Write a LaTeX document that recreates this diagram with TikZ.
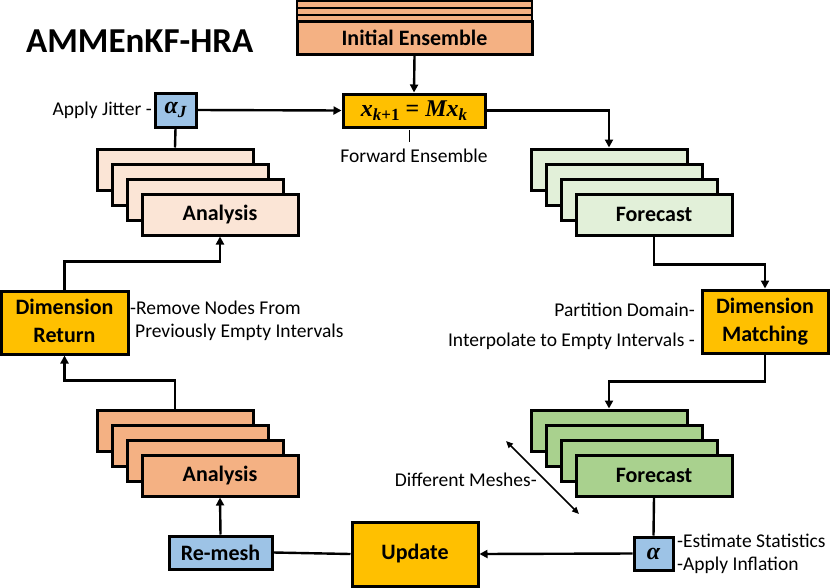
\documentclass[tikz,border=0pt]{standalone}
\usepackage{fontspec}
\setmainfont{Carlito}
\newfontfamily\mathlike{Liberation Serif}
\usetikzlibrary{arrows.meta}
\definecolor{gold}{HTML}{FFC000}
\definecolor{orangeA}{HTML}{F4B183}
\definecolor{orangeL}{HTML}{FBE5D6}
\definecolor{greenA}{HTML}{A9D18E}
\definecolor{greenL}{HTML}{E2F0D9}
\definecolor{blueA}{HTML}{9DC3E6}
\newcommand{\bfnt}{\fontsize{22}{28}\selectfont\bfseries}
\newcommand{\rfnt}{\fontsize{19.5}{24.5}\selectfont}
\newcommand{\mfnt}{\mathlike\fontsize{24}{26}\selectfont\bfseries\itshape}
\newcommand{\sbs}[1]{\raisebox{-4.5pt}{\fontsize{17}{17}\selectfont #1}}
\begin{document}
\begin{tikzpicture}[x=1pt,y=-1pt,
  bx/.style={draw=black, line width=3pt, inner sep=0pt, align=center, font=\bfnt},
  mbx/.style={draw=black, line width=3pt, inner sep=0pt, font=\mfnt},
  stk/.style={bx, minimum width=156pt, minimum height=41pt},
  conn/.style={line width=2.4pt},
  arr/.style={conn, -{Triangle[length=8pt,width=8pt]}},
  lbl/.style={inner sep=0pt, font=\rfnt}]
\useasboundingbox (0,0) rectangle (830,587);

% title
\node[anchor=base west, inner sep=0pt, font=\fontsize{35}{38}\selectfont\bfseries] (title) at (26,52) {AMMEnKF-HRA};

% initial ensemble
\node[bx, fill=orangeA, line width=2.5pt, minimum width=235pt, minimum height=53pt] (is1) at (414.5,27.5) {};
\node[bx, fill=orangeA, line width=2.5pt, minimum width=235pt, minimum height=46pt] (is2) at (414.5,31) {};
\node[bx, fill=orangeA, line width=2.5pt, minimum width=235pt, minimum height=39pt] (is3) at (414.5,34.5) {};
\node[bx, fill=orangeA, minimum width=235pt, minimum height=33pt] (init) at (414.5,37.5) {Initial Ensemble};

% model step
\node[mbx, fill=gold, minimum width=142pt, minimum height=33pt] (xb) at (414,110.5) {x\sbs{k{\upshape+1}} {\upshape=} Mx\sbs{k}};
\node[mbx, fill=blueA, minimum width=41pt, minimum height=34pt] (aj) at (175.5,110) {α\sbs{J}};

% upper forecast stack
\node[stk, fill=greenL] (f1) at (609,169.5) {};
\node[stk, fill=greenL] (f2) at (624,184.5) {};
\node[stk, fill=greenL] (f3) at (639,199.5) {};
\node[stk, fill=greenL] (f4) at (654,214.5) {Forecast};

% upper analysis stack
\node[stk, fill=orangeL] (a1) at (175,169.5) {};
\node[stk, fill=orangeL] (a2) at (190,184.5) {};
\node[stk, fill=orangeL] (a3) at (205,199.5) {};
\node[stk, fill=orangeL] (a4) at (220,214.5) {Analysis};

% dimension boxes
\node[bx, fill=gold, minimum width=126pt, minimum height=63pt, text depth=4pt] (dm) at (765,321.5) {Dimension\\Matching};
\node[bx, fill=gold, minimum width=127pt, minimum height=63pt, text depth=4pt] (dr) at (64.5,322.5) {Dimension\\Return};

% lower forecast stack
\node[stk, fill=greenA] (g1) at (609,430.5) {};
\node[stk, fill=greenA] (g2) at (624,445.5) {};
\node[stk, fill=greenA] (g3) at (639,460.5) {};
\node[stk, fill=greenA] (g4) at (654,475.5) {Forecast};

% lower analysis stack
\node[stk, fill=orangeA] (o1) at (175,430.5) {};
\node[stk, fill=orangeA] (o2) at (190,445.5) {};
\node[stk, fill=orangeA] (o3) at (205,460.5) {};
\node[stk, fill=orangeA] (o4) at (220,475.5) {Analysis};

% bottom row
\node[mbx, fill=blueA, minimum width=39pt, minimum height=33pt] (al) at (653.5,553.5) {α};
\node[bx, fill=gold, minimum width=126pt, minimum height=64pt] (up) at (415,554) {Update};
\node[bx, fill=blueA, minimum width=103pt, minimum height=33pt] (rm) at (220.5,552.5) {Re-mesh};

% labels
\node[lbl, anchor=east] (ljit) at (152,110) {Apply Jitter -};
\node[lbl] (lfwd) at (414,156) {Forward Ensemble};
\node[lbl, anchor=east] (lpart) at (695,310) {Partition Domain-};
\node[lbl, anchor=east] (linterp) at (695,341) {Interpolate to Empty Intervals -};
\node[lbl, anchor=west] (lrem1) at (130,308) {-Remove Nodes From};
\node[lbl, anchor=west] (lrem2) at (135,332) {Previously Empty Intervals};
\node[lbl, anchor=east] (ldiff) at (537,480) {Different Meshes-};
\node[lbl, anchor=west] (lest) at (677,541) {-Estimate Statistics};
\node[lbl, anchor=west] (linf) at (677,565) {-Apply Inflation};

% connectors
\draw[arr] (init.south) -- (xb.north);
\draw[arr] (aj.east) -- (xb.west);
\draw[arr] (xb.east) -| (f1.north);
\draw[arr] (f4.south) -- ++(0,28) -| (dm.north);
\draw[arr] (dm.south) -- ++(0,27) -| (g1.north);
\draw[conn] (g4.south) -- (al.north);
\draw[arr] (al.west) -- (up.east);
\draw[conn] (up.west) -- (rm.east);
\draw[arr] (rm.north) -- (o4.south);
\draw[arr] (o1.north) -- ++(0,-28) -| (dr.south);
\draw[arr] (dr.north) -- ++(0,-28) -| (a4.south);
\draw[conn] (a1.north) -- (aj.south);

% tick under model step
\coordinate (t1) at (409,130);
\coordinate (t2) at (409,142);
\draw[line width=1pt] (t1) -- (t2);

% different meshes double arrow
\coordinate (m1) at (506,441);
\coordinate (m2) at (579,514);
\draw[line width=1.6pt, {Triangle[length=7pt,width=6pt]}-{Triangle[length=7pt,width=6pt]}] (m1) -- (m2);
\end{tikzpicture}
\end{document}
